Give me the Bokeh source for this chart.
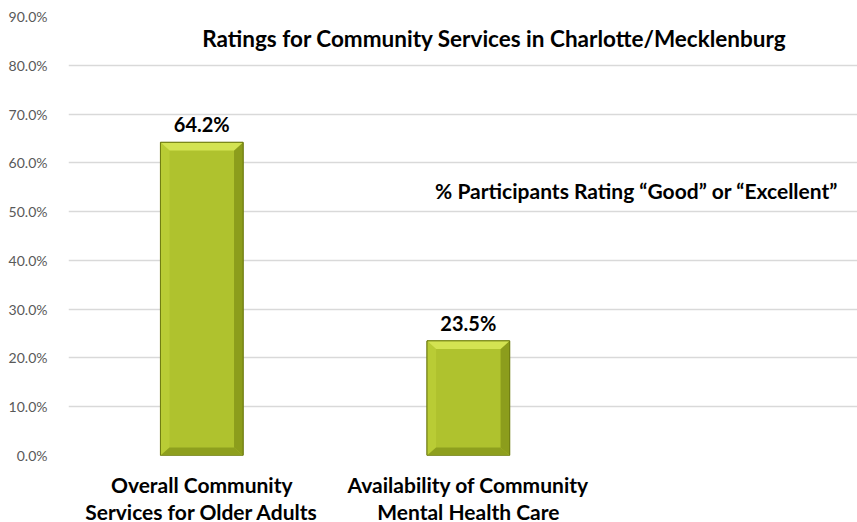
from bokeh.plotting import figure
from bokeh.models import ColumnDataSource, NumeralTickFormatter, FixedTicker, Range1d, Label
from bokeh.embed import file_html
from bokeh.resources import INLINE
from bokeh.core.properties import value

categories = ["Overall Community\nServices for Older Adults",
              "Availability of Community\nMental Health Care"]
values = [0.642, 0.235]
value_labels = ["64.2%", "23.5%"]
y_ticks = [0.0, 0.1, 0.2, 0.3, 0.4, 0.5, 0.6, 0.7, 0.8, 0.9]
title_text = "Ratings for Community Services in Charlotte/Mecklenburg"
subtitle_text = "% Participants Rating \u201cGood\u201d or \u201cExcellent\u201d"

FONT = "Lato"
x_idx = list(range(len(categories)))
bar_w = 0.31

p = figure(frame_width=789, frame_height=439, output_backend="svg", toolbar_location=None,
           x_range=Range1d(-0.5, 2.46), y_range=Range1d(0, 0.9),
           min_border_left=68, min_border_right=0, min_border_top=16, min_border_bottom=60)
p.outline_line_color = None
p.background_fill_color = "white"
p.border_fill_color = "white"

# y axis
p.yaxis.ticker = FixedTicker(ticks=y_ticks)
p.yaxis.formatter = NumeralTickFormatter(format="0.0%")
p.yaxis.axis_line_color = None
p.yaxis.major_tick_line_color = None
p.yaxis.minor_tick_line_color = None
p.yaxis.major_label_text_font = FONT
p.yaxis.major_label_text_font_size = "14px"
p.yaxis.major_label_text_color = "#595959"
p.yaxis.major_label_standoff = 15
p.ygrid.ticker = FixedTicker(ticks=y_ticks)
p.ygrid.grid_line_color = "#d9d9d9"
p.ygrid.grid_line_width = 1.3

# x axis
p.xaxis.ticker = FixedTicker(ticks=x_idx)
p.xaxis.major_label_overrides = {i: c for i, c in zip(x_idx, categories)}
p.xaxis.axis_line_color = None
p.xaxis.major_tick_line_color = None
p.xaxis.minor_tick_line_color = None
p.xaxis.major_label_text_font = FONT
p.xaxis.major_label_text_font_style = "bold"
p.xaxis.major_label_text_font_size = "21px"
p.xaxis.major_label_text_color = "#000000"
p.xaxis.major_label_text_line_height = 1.08
p.xaxis.major_label_standoff = 10
p.xgrid.grid_line_color = None

# bars with bevel
bx = 0.034   # bevel width in x data units
by = 0.0165  # bevel height in y data units
left = [x - bar_w / 2 for x in x_idx]
right = [x + bar_w / 2 for x in x_idx]

src = ColumnDataSource(dict(x=x_idx, top=values, left=left, right=right,
                            lbl=value_labels))
p.vbar(x="x", top="top", bottom=0, width=bar_w, source=src,
       fill_color="#afc22e", line_color="#6f7d12", line_width=1)

top_xs, top_ys, bot_xs, bot_ys, l_xs, l_ys, r_xs, r_ys = [], [], [], [], [], [], [], []
for l, r, t in zip(left, right, values):
    top_xs.append([l, r, r - bx, l + bx]); top_ys.append([t, t, t - by, t - by])
    bot_xs.append([l, r, r - bx, l + bx]); bot_ys.append([0, 0, by, by])
    l_xs.append([l, l + bx, l + bx, l]); l_ys.append([0, by, t - by, t])
    r_xs.append([r, r - bx, r - bx, r]); r_ys.append([0, by, t - by, t])

p.patches(l_xs, l_ys, fill_color="#b9cc35", line_color=None)
p.patches(r_xs, r_ys, fill_color="#8c9d1c", line_color=None)
p.patches(bot_xs, bot_ys, fill_color="#8e9f1e", line_color=None)
p.patches(top_xs, top_ys, fill_color="#d3e352", line_color=None)
p.vbar(x="x", top="top", bottom=0, width=bar_w, source=src,
       fill_color=None, line_color="#6f7d12", line_width=1)

p.text(x="x", y="top", text="lbl", source=src, text_align="center",
       text_baseline="bottom", y_offset=-6, text_font=value(FONT),
       text_font_style="bold", text_font_size="20px", text_color="#000000")

p.add_layout(Label(x=1.098, y=0.855, text=title_text, text_align="center",
                   text_baseline="middle", text_font=FONT, text_font_style="bold",
                   text_font_size="22.5px", text_color="#000000"))
p.add_layout(Label(x=1.631, y=0.543, text=subtitle_text, text_align="center",
                   text_baseline="middle", text_font=FONT, text_font_style="bold",
                   text_font_size="21px", text_color="#000000"))

open("out.html", "w").write(file_html(p, INLINE))
